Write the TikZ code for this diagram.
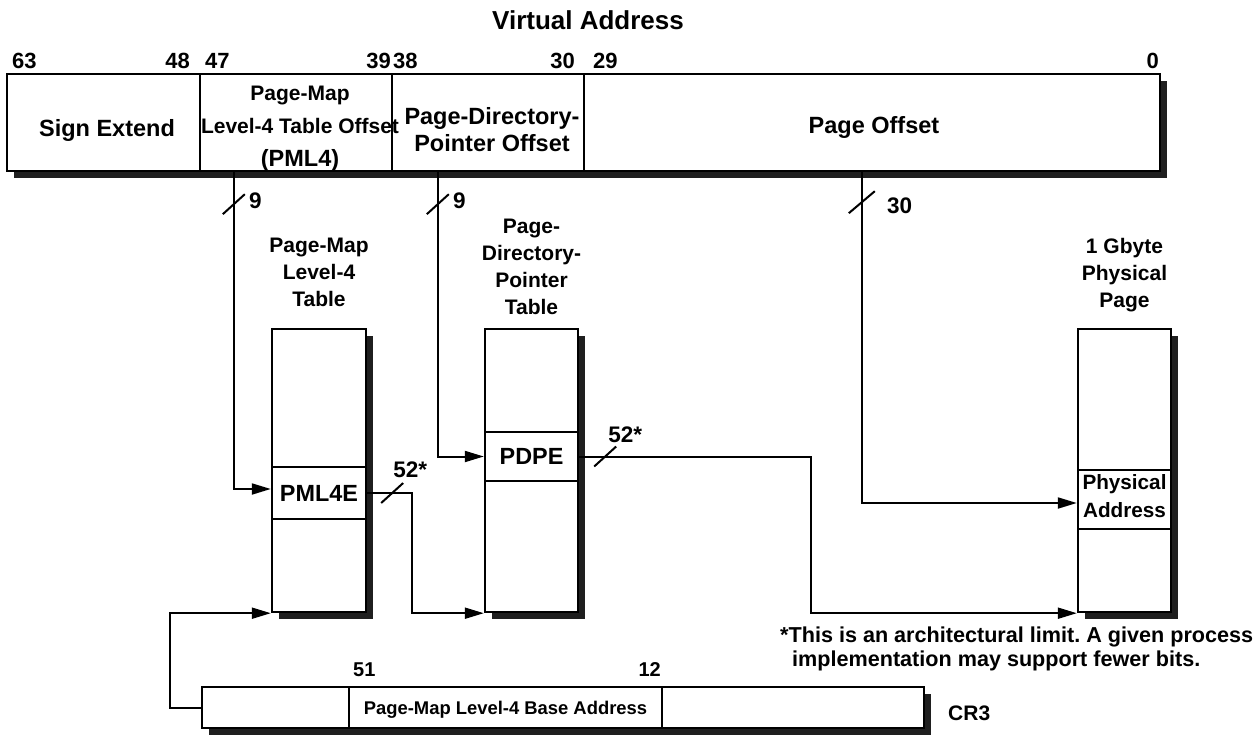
\documentclass[tikz,border=0pt]{standalone}
\usepackage{fontspec}
\setmainfont{Liberation Sans}
\usetikzlibrary{arrows.meta, positioning, calc, shadows}

\begin{document}
\begin{tikzpicture}[x=1pt, y=-1pt,
    box/.style={draw, line width=2.4pt, inner sep=0pt, fill=white},
    shadowbox/.style={box, drop shadow={shadow xshift=7pt, shadow yshift=-7pt, opacity=1, fill=black!88}},
    conn/.style={line width=2pt, -{Triangle[length=19pt, width=11pt]}},
    wire/.style={line width=2pt},
    bitno/.style={inner sep=0pt, font=\bfseries\fontsize{22}{26}\selectfont},
    fieldtxt/.style={inner sep=0pt, align=center, font=\bfseries\fontsize{23.5}{27}\selectfont},
    tabletxt/.style={inner sep=0pt, align=center, font=\bfseries\fontsize{21}{27}\selectfont},
    entrytxt/.style={font=\bfseries\fontsize{23.4}{28}\selectfont},
    widthtxt/.style={inner sep=0pt, font=\bfseries\fontsize{22.5}{26}\selectfont}]
    \useasboundingbox (0,0) rectangle (1256,738);

    % Title
    \node[inner sep=0pt, anchor=base, font=\bfseries\fontsize{26}{30}\selectfont] (title) at (588,30) {Virtual Address};

    % Virtual address register
    \node[shadowbox, minimum width=1153, minimum height=97] (va) at (583.5,122.5) {};
    \node[box, minimum width=193, minimum height=97] (sign) at (103.5,122.5) {};
    \node[box, minimum width=192, minimum height=97] (pml4off) at (296,122.5) {};
    \node[box, minimum width=192, minimum height=97] (pdpoff) at (488,122.5) {};
    \node[box, minimum width=576, minimum height=97] (pageoff) at (872,122.5) {};

    \node[fieldtxt, anchor=base] (signtxt) at (107,137) {Sign Extend};
    \node[fieldtxt, anchor=north, font=\bfseries\fontsize{21}{33}\selectfont] (pml4txt) at (300,86) {Page-Map\\Level-4 Table Offset\\{\fontsize{23.5}{33}\selectfont(PML4)}};
    \node[fieldtxt, anchor=north] (pdptxt) at (492,107) {Page-Directory-\\Pointer Offset};
    \node[fieldtxt, anchor=base] (pagetxt) at (874,134) {Page Offset};

    % Bit numbers
    \node[bitno, anchor=base west] (b63) at (12,69) {63};
    \node[bitno, anchor=base east] (b48) at (190,69) {48};
    \node[bitno, anchor=base west] (b47) at (205,69) {47};
    \node[bitno, anchor=base east] (b39) at (391,69) {39};
    \node[bitno, anchor=base west] (b38) at (393,69) {38};
    \node[bitno, anchor=base east] (b30) at (575,69) {30};
    \node[bitno, anchor=base west] (b29) at (593,69) {29};
    \node[bitno, anchor=base east] (b0) at (1159,69) {0};

    % Tables
    \node[shadowbox, minimum width=94, minimum height=283] (pml4t) at (319,470.5) {};
    \node[box, entrytxt, minimum width=94, minimum height=52] (pml4e) at (319,493) {PML4E};
    \node[tabletxt, above=21pt of pml4t] (pml4lbl) {Page-Map\\Level-4\\Table};

    \node[shadowbox, minimum width=93, minimum height=283] (pdpt) at (531.5,470.5) {};
    \node[box, entrytxt, minimum width=93, minimum height=49] (pdpe) at (531.5,456.5) {PDPE};
    \node[tabletxt, above=13pt of pdpt] (pdptlbl) {Page-\\Directory-\\Pointer\\Table};

    \node[shadowbox, minimum width=93, minimum height=283] (phys) at (1124.5,470.5) {};
    \node[box, minimum width=93, minimum height=59] (physaddr) at (1124.5,499.5) {};
    \node[inner sep=0pt, align=center, font=\bfseries\fontsize{20.7}{28}\selectfont] (physaddrtxt) at ([yshift=3pt]physaddr.center) {Physical\\Address};
    \node[tabletxt, above=16pt of phys] (physlbl) {1 Gbyte\\Physical\\Page};

    % CR3 register
    \node[shadowbox, minimum width=722, minimum height=41] (cr3) at (563,707.5) {};
    \node[box, minimum width=147, minimum height=41] (cr3hi) at (275.5,707.5) {};
    \node[box, minimum width=313, minimum height=41, text depth=0pt, font=\bfseries\fontsize{18.4}{22}\selectfont] (cr3base) at (505.5,707.5) {Page-Map Level-4 Base Address};
    \node[box, minimum width=262, minimum height=41] (cr3lo) at (793,707.5) {};
    \node[bitno, anchor=base west, font=\bfseries\fontsize{20}{24}\selectfont] (b51) at (353,676) {51};
    \node[bitno, anchor=base east, font=\bfseries\fontsize{20}{24}\selectfont] (b12) at (661,676) {12};
    \node[bitno, anchor=base west, font=\bfseries\fontsize{21}{24}\selectfont] (cr3lbl) at (948,720) {CR3};

    % Connectors
    \draw[conn] ([xshift=35pt]pml4off.south west) |- ([yshift=4pt]pml4e.west);
    \draw[conn] ([xshift=47pt]pdpoff.south west) |- (pdpe.west);
    \draw[conn] ([xshift=279pt]pageoff.south west) |- ([yshift=-3.5pt]physaddr.west);
    \draw[conn] (pml4e.east) -| ([xshift=-72pt]pdpt.south west) -- (pdpt.south west);
    \draw[conn] (pdpe.east) -| ([xshift=-266pt]phys.south west) -- (phys.south west);
    \draw[conn] (cr3.west) -- ++(-31,0) |- (pml4t.south west);

    % Width marks
    \coordinate (s1) at ($(pml4off.south west)+(35,32)$);
    \draw[wire] ($(s1)+(-11,10)$) -- ($(s1)+(11,-10)$);
    \node[widthtxt, anchor=base west] (w1) at ($(s1)+(15,4)$) {9};
    \coordinate (s2) at ($(pdpoff.south west)+(47,32)$);
    \draw[wire] ($(s2)+(-11,10)$) -- ($(s2)+(11,-10)$);
    \node[widthtxt, anchor=base west] (w2) at ($(s2)+(15,4)$) {9};
    \coordinate (s3) at ($(pageoff.south west)+(279,30)$);
    \draw[wire] ($(s3)+(-13,11)$) -- ($(s3)+(13,-11)$);
    \node[widthtxt, anchor=base west] (w3) at ($(s3)+(25,11)$) {30};
    \coordinate (s4) at ($(pml4e.east)+(25,0)$);
    \draw[wire] ($(s4)+(-11,10)$) -- ($(s4)+(11,-10)$);
    \node[widthtxt, anchor=base west] (w4) at ($(s4)+(1,-16)$) {52*};
    \coordinate (s5) at ($(pdpe.east)+(26,0)$);
    \draw[wire] ($(s5)+(-11,10)$) -- ($(s5)+(11,-10)$);
    \node[widthtxt, anchor=base west] (w5) at ($(s5)+(3,-14.5)$) {52*};

    % Footnote
    \node[inner sep=0pt, anchor=north west, align=left, font=\bfseries\fontsize{21.6}{24}\selectfont\frenchspacing] (note) at (780,627) {*This is an architectural limit. A given process\\\hspace*{12pt}implementation may support fewer bits.};
\end{tikzpicture}
\end{document}
